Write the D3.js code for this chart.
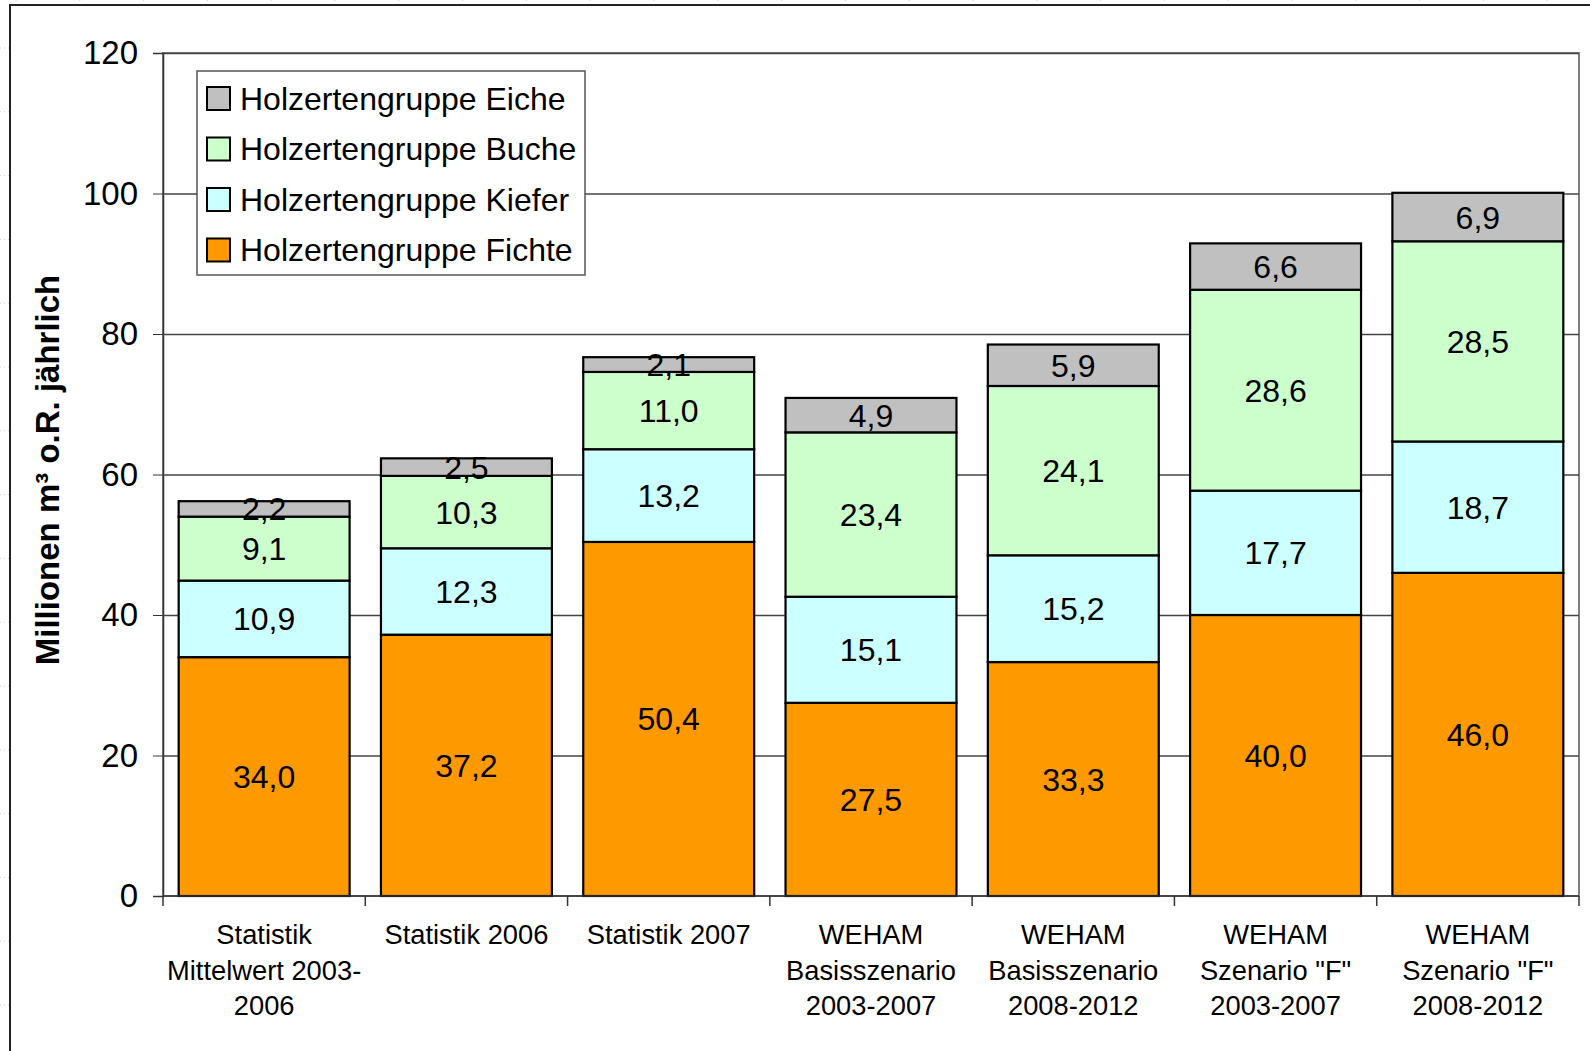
<!DOCTYPE html>
<html>
<head>
<meta charset="utf-8">
<script src="https://cdn.jsdelivr.net/npm/d3@7"></script>
<style>
  body { margin: 0; background: #fff; }
  svg { display: block; font-family: "Liberation Sans", Arial, sans-serif; }
</style>
</head>
<body>
<script>
const categories = [
  ['Statistik', 'Mittelwert 2003-', '2006'],
  ['Statistik 2006'],
  ['Statistik 2007'],
  ['WEHAM', 'Basisszenario', '2003-2007'],
  ['WEHAM', 'Basisszenario', '2008-2012'],
  ['WEHAM', 'Szenario "F"', '2003-2007'],
  ['WEHAM', 'Szenario "F"', '2008-2012']
];
const fichte = [34.0, 37.2, 50.4, 27.5, 33.3, 40.0, 46.0];
const kiefer = [10.9, 12.3, 13.2, 15.1, 15.2, 17.7, 18.7];
const buche = [9.1, 10.3, 11.0, 23.4, 24.1, 28.6, 28.5];
const eiche = [2.2, 2.5, 2.1, 4.9, 5.9, 6.6, 6.9];
const seriesNames = ['Holzertengruppe Fichte', 'Holzertengruppe Kiefer', 'Holzertengruppe Buche', 'Holzertengruppe Eiche'];
const seriesColors = ['#ff9900', '#ccffff', '#ccffcc', '#c0c0c0'];
const yTicks = [0, 20, 40, 60, 80, 100, 120];

const width = 1590;
const height = 1051;
const margin = { top: 53, right: 11, bottom: 155, left: 163 };

const keys = ['fichte', 'kiefer', 'buche', 'eiche'];
const rows = categories.map((c, i) => ({
  idx: i,
  fichte: fichte[i], kiefer: kiefer[i], buche: buche[i], eiche: eiche[i]
}));
const stacked = d3.stack().keys(keys)(rows);

const x = d3.scaleBand()
  .domain(d3.range(categories.length))
  .range([margin.left, width - margin.right])
  .paddingInner(0.155)
  .paddingOuter(0.0775);

const xb = d3.scaleBand()
  .domain(d3.range(categories.length))
  .range([margin.left, width - margin.right]);

const y = d3.scaleLinear()
  .domain([0, 120])
  .range([height - margin.bottom, margin.top]);

const fmt = v => d3.format('.1f')(v).replace('.', ',');

const svg = d3.select('body')
  .append('svg')
  .attr('width', width)
  .attr('height', height);

// spreadsheet grid peeking out around the chart object
const sheet = svg.append('g')
  .attr('stroke', '#c9d3f2')
  .attr('stroke-width', 1)
  .attr('stroke-dasharray', '1,3');
d3.range(48, height, 63.8).forEach(yy => {
  sheet.append('line').attr('x1', 0).attr('x2', width).attr('y1', yy).attr('y2', yy);
});
d3.range(16, width, 63.8).forEach(xx => {
  sheet.append('line').attr('x1', xx).attr('x2', xx).attr('y1', 0).attr('y2', height);
});

// chart object frame
svg.append('rect')
  .attr('x', 10)
  .attr('y', 5)
  .attr('width', width + 20)
  .attr('height', height + 20)
  .attr('fill', '#fff')
  .attr('stroke', '#222')
  .attr('stroke-width', 2);

// plot area
svg.append('rect')
  .attr('x', margin.left)
  .attr('y', margin.top)
  .attr('width', width - margin.right - margin.left)
  .attr('height', height - margin.bottom - margin.top)
  .attr('fill', '#fff')
  .attr('stroke', '#808080')
  .attr('stroke-width', 2);

const yAxis = g => g
  .attr('transform', `translate(${margin.left},0)`)
  .call(d3.axisLeft(y).tickValues(yTicks).tickFormat(d3.format('d')).tickSize(10).tickPadding(15))
  .call(g => g.select('.domain').attr('stroke', '#333').attr('stroke-width', 1.5))
  .call(g => g.selectAll('.tick line').attr('stroke', '#333'))
  .call(g => g.selectAll('.tick text')
    .attr('font-size', 33)
    .attr('fill', '#000')
    .attr('font-family', '"Liberation Sans", Arial, sans-serif'))
  .call(g => g.selectAll('.tick')
    .filter(d => d > 0)
    .append('line')
    .attr('x2', width - margin.right - margin.left)
    .attr('stroke', '#444')
    .attr('stroke-width', 1.4));

svg.append('g').call(yAxis);

// bars
const layer = svg.append('g')
  .selectAll('g')
  .data(stacked)
  .join('g')
  .attr('fill', (d, i) => seriesColors[i]);

layer.selectAll('rect')
  .data(d => d)
  .join('rect')
  .attr('x', d => x(d.data.idx))
  .attr('y', d => y(d[1]))
  .attr('width', x.bandwidth())
  .attr('height', d => y(d[0]) - y(d[1]))
  .attr('stroke', '#000')
  .attr('stroke-width', 2.2);

layer.selectAll('text')
  .data(d => d.map(v => Object.assign(v, { key: d.key })))
  .join('text')
  .attr('x', d => x(d.data.idx) + x.bandwidth() / 2)
  .attr('y', d => y((d[0] + d[1]) / 2))
  .attr('dy', '0.36em')
  .attr('text-anchor', 'middle')
  .attr('font-size', 32)
  .attr('fill', '#000')
  .text(d => fmt(d.data[d.key]));

// x axis
const xAxis = svg.append('g');
xAxis.append('line')
  .attr('x1', margin.left)
  .attr('x2', width - margin.right)
  .attr('y1', y(0))
  .attr('y2', y(0))
  .attr('stroke', '#333')
  .attr('stroke-width', 1.5);
xAxis.selectAll('.xtick')
  .data(d3.range(categories.length + 1))
  .join('line')
  .attr('class', 'xtick')
  .attr('x1', i => i < categories.length ? xb(i) : xb(i - 1) + xb.bandwidth())
  .attr('x2', i => i < categories.length ? xb(i) : xb(i - 1) + xb.bandwidth())
  .attr('y1', y(0))
  .attr('y2', y(0) + 10)
  .attr('stroke', '#333')
  .attr('stroke-width', 1.5);

xAxis.selectAll('text')
  .data(categories)
  .join('text')
  .attr('text-anchor', 'middle')
  .attr('font-size', 27.3)
  .attr('fill', '#000')
  .attr('x', (d, i) => xb(i) + xb.bandwidth() / 2)
  .attr('y', y(0) + 48)
  .selectAll('tspan')
  .data(d => d)
  .join('tspan')
  .attr('x', function () { return d3.select(this.parentNode).attr('x'); })
  .attr('dy', (d, i) => i === 0 ? 0 : 35.5)
  .text(d => d);

// y axis title
svg.append('text')
  .attr('transform', 'translate(59,470) rotate(-90)')
  .attr('text-anchor', 'middle')
  .attr('font-size', 33)
  .attr('font-weight', 'bold')
  .attr('fill', '#000')
  .text('Millionen m³ o.R. jährlich');

// legend
const legend = svg.append('g').attr('transform', 'translate(197,71)');
legend.append('rect')
  .attr('width', 388)
  .attr('height', 204)
  .attr('fill', '#fff')
  .attr('stroke', '#555')
  .attr('stroke-width', 1.5);

const legendItems = legend.selectAll('.item')
  .data(d3.range(seriesNames.length).reverse())
  .join('g')
  .attr('class', 'item')
  .attr('transform', (d, i) => `translate(10,${27 + i * 50.5})`);

legendItems.append('rect')
  .attr('y', -11)
  .attr('width', 23)
  .attr('height', 23)
  .attr('fill', d => seriesColors[d])
  .attr('stroke', '#000')
  .attr('stroke-width', 2);

legendItems.append('text')
  .attr('x', 33)
  .attr('dy', '0.36em')
  .attr('font-size', 32)
  .attr('fill', '#000')
  .text(d => seriesNames[d]);
</script>
</body>
</html>
